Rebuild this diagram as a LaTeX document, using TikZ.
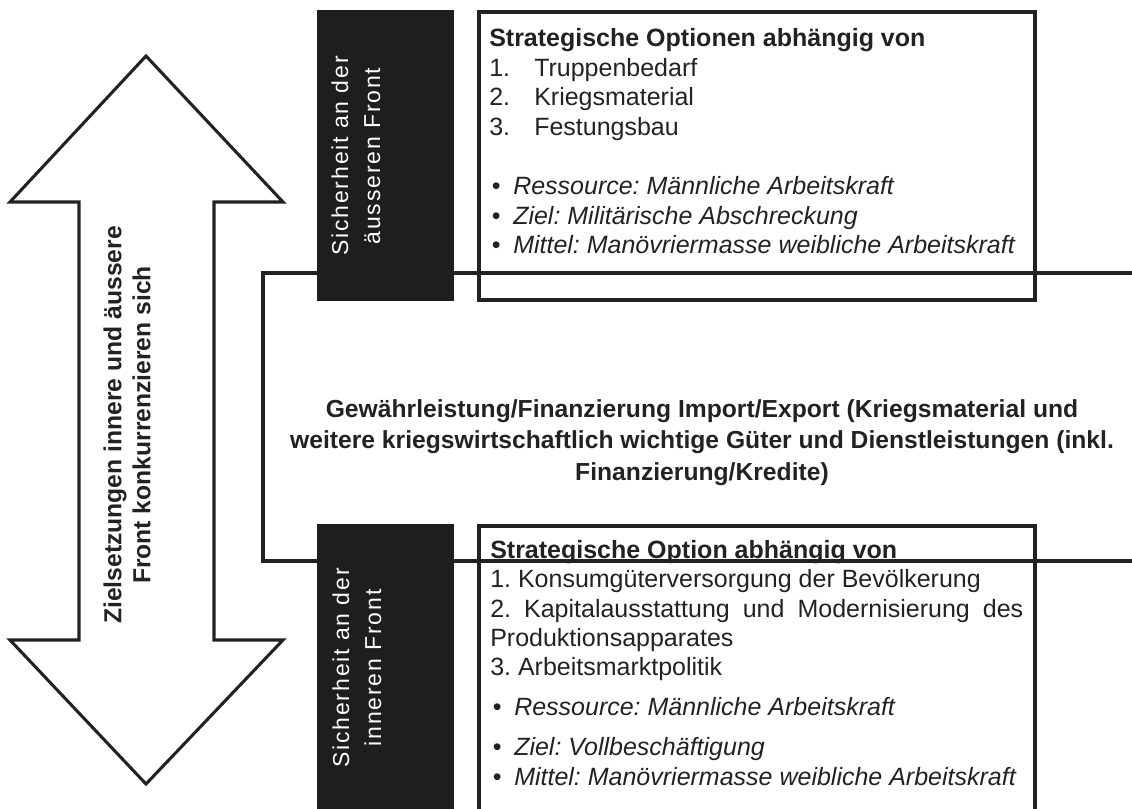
\documentclass[tikz,border=0pt]{standalone}
\usepackage{fontspec}
\setmainfont{Liberation Sans}
\newfontfamily\spacedsans[LetterSpace=8]{Liberation Sans}
\frenchspacing

\definecolor{ink}{RGB}{34,34,34}
\definecolor{slab}{RGB}{30,30,30}

\begin{document}
\begin{tikzpicture}[x=0.75pt, y=-0.75pt,
  frameline/.style={draw=ink, line width=2.3pt},
  sidetext/.style={text=white, rotate=90, align=center, inner sep=0pt,
    font=\spacedsans\fontsize{17.25}{24}\selectfont},
  bodytext/.style={text=ink, align=left, anchor=base west, inner sep=0pt},
  midtext/.style={text=ink, align=center, anchor=base, inner sep=0pt,
    font=\bfseries\fontsize{18.5}{23.6}\selectfont}]
  \useasboundingbox (0,0) rectangle (1132,809);

  % double arrow
  \draw[frameline, line join=miter] (146,56) -- (283,202) -- (214,202) -- (214,640)
    -- (283,640) -- (146,784) -- (10,640) -- (79,640) -- (79,202) -- (10,202) -- cycle;
  \node[text=ink, rotate=90, align=center, inner sep=0pt,
    font=\bfseries\fontsize{18.5}{21.75}\selectfont] (goals) at (127,425)
    {Zielsetzungen innere und äussere\\Front konkurrenzieren sich};

  % middle frame (base of last line given)
  \draw[frameline] (1140,273) -- (263,273) -- (263,561) -- (1140,561);
  \node[midtext] (trade) at (702,480)
    {Gewährleistung/Finanzierung Import/Export (Kriegsmaterial und\\
     weitere kriegswirtschaftlich wichtige Güter und Dienstleistungen (inkl.\\
     Finanzierung/Kredite)};

  % dark slabs
  \fill[slab] (317,10) rectangle (454,301);
  \fill[slab] (317,524) rectangle (454,815);
  \node[sidetext] (outer) at (356,156) {Sicherheit an der\\äusseren Front};
  \node[sidetext] (inner) at (357,668) {Sicherheit an der\\inneren Front};

  % option boxes
  \draw[frameline] (479,12) rectangle (1035,300);
  \draw[frameline] (479,815) -- (479,526) -- (1035,526) -- (1035,815);

  \node[bodytext, font=\fontsize{18.75}{22.2}\selectfont] (outeropts) at (489,254)
    {\textbf{Strategische Optionen abhängig von}\\
     \makebox[33.75pt][l]{1.}Truppenbedarf\\
     \makebox[33.75pt][l]{2.}Kriegsmaterial\\
     \makebox[33.75pt][l]{3.}Festungsbau\\[22.2pt]
     \makebox[18pt][l]{\hspace{2pt}\textbullet}\textit{Ressource: Männliche Arbeitskraft}\\
     \makebox[18pt][l]{\hspace{2pt}\textbullet}\textit{Ziel: Militärische Abschreckung}\\
     \makebox[18pt][l]{\hspace{2pt}\textbullet}\textit{Mittel: Manövriermasse weibliche Arbeitskraft}};

  \node[bodytext, font=\fontsize{18.75}{22}\selectfont] (inneropts) at (490,785)
    {\textbf{Strategische Option abhängig von}\\
     1. Konsumgüterversorgung der Bevölkerung\\
     \makebox[399.75pt][s]{2. Kapitalausstattung und Modernisierung des}\\
     Produktionsapparates\\
     3. Arbeitsmarktpolitik\\[8pt]
     \makebox[18pt][l]{\hspace{2pt}\textbullet}\textit{Ressource: Männliche Arbeitskraft}\\[8pt]
     \makebox[18pt][l]{\hspace{2pt}\textbullet}\textit{Ziel: Vollbeschäftigung}\\
     \makebox[18pt][l]{\hspace{2pt}\textbullet}\textit{Mittel: Manövriermasse weibliche Arbeitskraft}};
\end{tikzpicture}
\end{document}
